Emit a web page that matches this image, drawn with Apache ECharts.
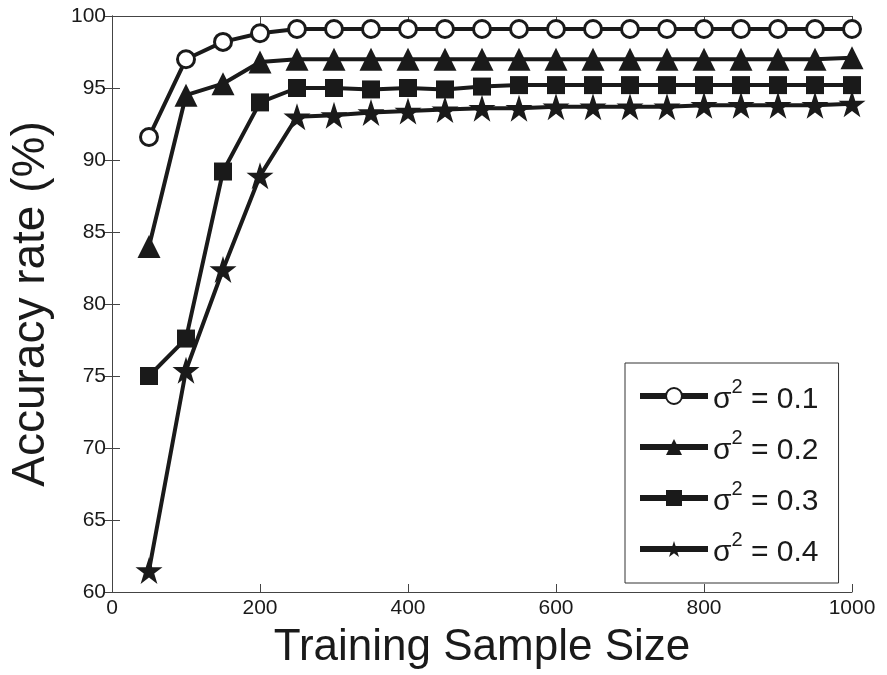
<!DOCTYPE html>
<html><head><meta charset="utf-8">
<script src="https://cdn.jsdelivr.net/npm/echarts@6/dist/echarts.min.js"></script>
<style>html,body{margin:0;padding:0;background:#fff}#c{width:887px;height:675px}</style>
</head><body><div id="c"></div>
<script>
const xs = [50,100,150,200,250,300,350,400,450,500,550,600,650,700,750,800,850,900,950,1000];
const s01 = [91.6,97.0,98.2,98.8,99.1,99.1,99.1,99.1,99.1,99.1,99.1,99.1,99.1,99.1,99.1,99.1,99.1,99.1,99.1,99.1];
const s02 = [84.0,94.5,95.3,96.8,97.0,97.0,97.0,97.0,97.0,97.0,97.0,97.0,97.0,97.0,97.0,97.0,97.0,97.0,97.0,97.1];
const s03 = [75.0,77.6,89.2,94.0,95.0,95.0,94.9,95.0,94.9,95.1,95.2,95.2,95.2,95.2,95.2,95.2,95.2,95.2,95.2,95.2];
const s04 = [61.5,75.4,82.4,88.9,93.0,93.1,93.3,93.4,93.5,93.6,93.6,93.7,93.7,93.7,93.7,93.8,93.8,93.8,93.8,93.9];
const names = ['0.1','0.2','0.3','0.4'];
const xTicks = [0,200,400,600,800,1000];
const yTicks = [60,65,70,75,80,85,90,95,100];

const font = '"Liberation Sans",Arial,sans-serif';
const ink = '#1a1a1a';
const chart = echarts.init(document.getElementById('c'));
function mk(name, data, symbol, size, fill){
  return {
    name: name, type:'line', data: xs.map((x,i)=>[x,data[i]]),
    symbol: symbol, symbolSize: size, showAllSymbol:true,
    lineStyle:{color:ink,width:4},
    itemStyle:{color:fill,borderColor:ink,borderWidth: symbol==='circle'?3:0},
    emphasis:{disabled:true}, animation:false, z:3, clip:false
  };
}
const axisCommon = {
  axisLine:{show:true,lineStyle:{color:'#444',width:1}},
  axisTick:{show:true,inside:true,length:8,lineStyle:{color:'#444'}},
  splitLine:{show:false}
};
chart.setOption({
  animation:false,
  grid:{left:112,right:35,top:16,bottom:77},
  legend:{
    data:names, orient:'vertical', left:625, top:363,
    width:215, itemWidth:68, itemHeight:20, itemGap:13,
    padding:[14,20,15,12], borderColor:'#333', borderWidth:1, backgroundColor:'#fff',
    lineStyle:{width:6,color:ink},
    formatter: n => '{s|σ}{sup|2}{s| = '+n+'}',
    textStyle:{color:ink,fontFamily:font,fontSize:28,
      rich:{s:{fontSize:30,fontFamily:font,color:ink,padding:[8,0,0,0]},
            sup:{fontSize:20,fontFamily:font,color:ink,verticalAlign:'top',padding:[0,0,12,0]}}}
  },
  xAxis:[
    Object.assign({type:'value',min:0,max:1000,interval:200,position:'bottom',
      name:'Training Sample Size',nameLocation:'middle',nameGap:34,
      nameTextStyle:{fontFamily:font,fontSize:44,color:ink},
      axisLabel:{fontFamily:font,fontSize:21,color:ink,margin:6,formatter:v=>String(v)}},axisCommon),
    Object.assign({type:'value',min:0,max:1000,interval:200,position:'top',
      axisLabel:{show:false}},axisCommon)
  ],
  yAxis:[
    Object.assign({type:'value',min:60,max:100,interval:5,position:'left',
      name:'Accuracy rate (%)',nameLocation:'middle',nameGap:58,
      nameTextStyle:{fontFamily:font,fontSize:46,color:ink},
      axisLabel:{fontFamily:font,fontSize:21,color:ink,margin:6}},axisCommon),
    Object.assign({type:'value',min:60,max:100,interval:5,position:'right',
      axisLabel:{show:false}},axisCommon)
  ],
  series:[
    mk(names[0],s01,'circle',17,'#fff'),
    mk(names[1],s02,'triangle',23,ink),
    mk(names[2],s03,'rect',18,ink),
    mk(names[3],s04,'path://M50,0 L61.8,35.5 L99,35.5 L69,57.5 L80.5,93 L50,71 L19.5,93 L31,57.5 L1,35.5 L38.2,35.5 Z',27,ink)
  ]
});
</script></body></html>
